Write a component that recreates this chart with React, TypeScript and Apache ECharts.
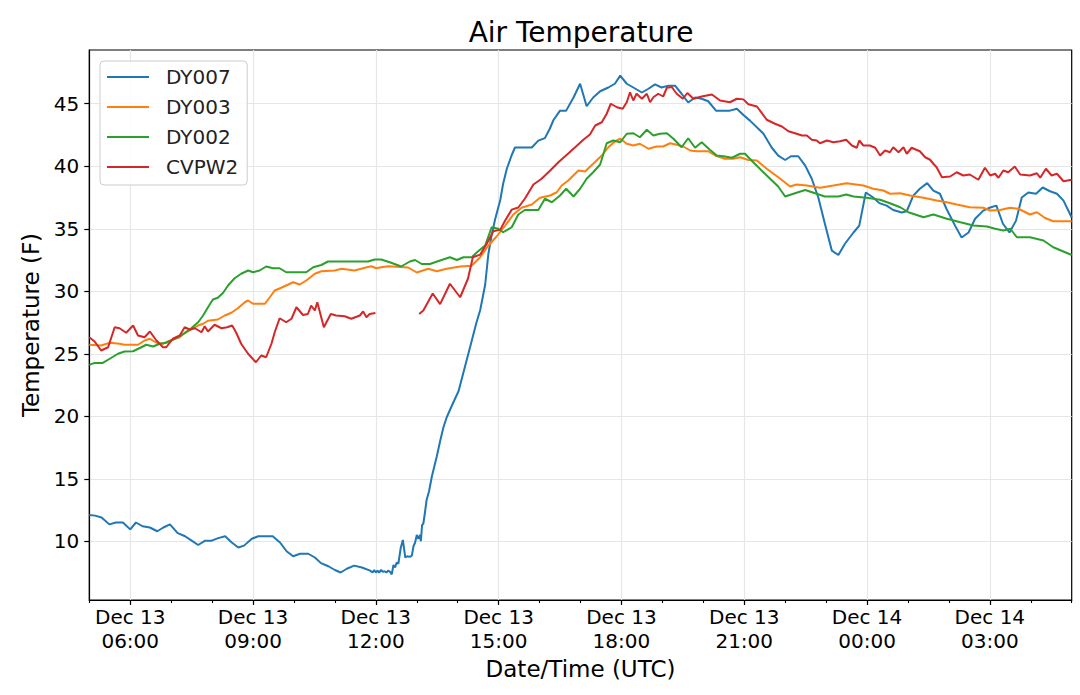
import React, { useEffect, useRef } from "react";
import * as echarts from "echarts";

// Time values: hours after Dec 13 00:00 UTC. Temperatures in °F.
const seriesNames = ["DY007", "DY003", "DY002", "CVPW2"];
const seriesColors = ["#1f77b4", "#ff7f0e", "#2ca02c", "#d62728"];

const dy007: [number, number][] = [
  [5.0, 12.1], [5.14, 12.05], [5.3, 11.9], [5.49, 11.35], [5.65, 11.5], [5.82, 11.5], [6.0, 10.95],
  [6.14, 11.5], [6.3, 11.2], [6.48, 11.1], [6.66, 10.8], [6.81, 11.1], [6.97, 11.35], [7.16, 10.65],
  [7.34, 10.4], [7.5, 10.05], [7.66, 9.7], [7.83, 10.05], [7.99, 10.05], [8.15, 10.25], [8.32, 10.4],
  [8.48, 9.9], [8.64, 9.5], [8.78, 9.65], [8.97, 10.2], [9.13, 10.4], [9.48, 10.4], [9.66, 9.9],
  [9.82, 9.2], [9.98, 8.8], [10.15, 9.0], [10.35, 9.0], [10.51, 8.7], [10.66, 8.25], [10.84, 8.0],
  [11.0, 7.7], [11.14, 7.5], [11.29, 7.8], [11.47, 8.05], [11.66, 7.9], [11.86, 7.65], [11.92, 7.5],
  [11.96, 7.7], [12.0, 7.5], [12.04, 7.65], [12.08, 7.5], [12.13, 7.7], [12.17, 7.55], [12.21, 7.6],
  [12.26, 7.5], [12.3, 7.65], [12.35, 7.55], [12.39, 7.35], [12.43, 8.1], [12.47, 7.9], [12.51, 8.3],
  [12.55, 8.2], [12.61, 9.5], [12.66, 10.1], [12.72, 8.7], [12.77, 8.8], [12.83, 8.75], [12.88, 8.85],
  [12.92, 9.6], [12.96, 9.9], [13.0, 10.5], [13.04, 10.2], [13.08, 10.5], [13.1, 10.0], [13.13, 11.3],
  [13.16, 11.4], [13.2, 12.3], [13.24, 13.3], [13.3, 14.0], [13.37, 15.2], [13.43, 16.0], [13.49, 16.8],
  [13.57, 18.0], [13.65, 19.1], [13.73, 19.9], [13.81, 20.5], [13.92, 21.3], [14.02, 22.0], [14.1, 23.0],
  [14.18, 24.0], [14.26, 25.0], [14.34, 26.0], [14.45, 27.4], [14.55, 28.5], [14.67, 30.5], [14.75, 33.0],
  [14.83, 34.5], [14.91, 35.7], [15.04, 37.3], [15.11, 38.6], [15.2, 39.8], [15.32, 40.9], [15.4, 41.5],
  [15.48, 41.5], [15.81, 41.5], [15.97, 42.05], [16.13, 42.25], [16.25, 43.0], [16.34, 43.7], [16.5, 44.45],
  [16.65, 44.45], [16.83, 45.5], [16.99, 46.6], [17.15, 44.8], [17.31, 45.5], [17.48, 46.0], [17.68, 46.3],
  [17.84, 46.6], [17.97, 47.25], [18.13, 46.6], [18.29, 46.3], [18.5, 45.9], [18.66, 46.2], [18.82, 46.55],
  [18.98, 46.3], [19.15, 46.45], [19.31, 46.45], [19.47, 45.8], [19.63, 45.1], [19.8, 45.5], [19.96, 45.4],
  [20.12, 45.2], [20.31, 44.45], [20.65, 44.45], [20.82, 44.6], [20.98, 44.1], [21.14, 43.65], [21.47, 42.6],
  [21.67, 41.5], [21.83, 40.85], [22.0, 40.5], [22.14, 40.8], [22.32, 40.8], [22.49, 40.05], [22.65, 39.0],
  [22.81, 37.5], [22.97, 35.4], [23.14, 33.25], [23.3, 32.9], [23.46, 33.8], [23.67, 34.7], [23.81, 35.25],
  [23.97, 37.9], [24.15, 37.5], [24.3, 37.05], [24.48, 36.85], [24.64, 36.5], [24.85, 36.3], [24.97, 36.4],
  [25.13, 37.65], [25.29, 38.2], [25.47, 38.65], [25.62, 38.05], [25.78, 37.8], [25.94, 36.6], [26.15, 35.25],
  [26.31, 34.3], [26.48, 34.7], [26.64, 35.8], [26.84, 36.45], [27.01, 36.7], [27.16, 36.85], [27.32, 35.4],
  [27.48, 34.7], [27.64, 35.65], [27.78, 37.5], [27.94, 37.9], [28.13, 37.8], [28.29, 38.3], [28.47, 38.0],
  [28.64, 37.8], [28.8, 37.25], [29.0, 35.9],
];

const dy003: [number, number][] = [
  [5.0, 25.72], [5.29, 25.66], [5.5, 25.88], [5.74, 25.8], [5.86, 25.72], [6.19, 25.72], [6.35, 26.06],
  [6.48, 26.2], [6.64, 25.88], [6.8, 25.8], [6.92, 25.98], [7.09, 26.2], [7.21, 26.32], [7.33, 26.68],
  [7.49, 26.94], [7.66, 27.26], [7.78, 27.4], [7.9, 27.64], [8.14, 27.74], [8.31, 28.06], [8.47, 28.28],
  [8.63, 28.64], [8.8, 29.12], [8.88, 29.26], [9.0, 29.0], [9.29, 29.0], [9.41, 29.52], [9.53, 30.06],
  [9.69, 30.28], [9.85, 30.52], [9.98, 30.72], [10.14, 30.54], [10.3, 30.86], [10.51, 31.4], [10.67, 31.6],
  [11.0, 31.66], [11.16, 31.8], [11.48, 31.66], [11.73, 31.88], [11.89, 32.0], [12.01, 31.84], [12.13, 31.92],
  [12.3, 32.0], [12.79, 31.9], [13.0, 31.5], [13.28, 31.8], [13.49, 31.6], [13.73, 31.8], [14.06, 31.98],
  [14.34, 32.04], [14.55, 32.72], [14.75, 33.66], [14.95, 34.38], [15.16, 35.26], [15.36, 36.14],
  [15.56, 36.68], [15.81, 36.94], [16.01, 37.48], [16.26, 37.66], [16.42, 37.92], [16.54, 38.46],
  [16.7, 38.86], [16.95, 39.66], [17.11, 39.58], [17.31, 40.2], [17.52, 40.86], [17.68, 41.52],
  [17.84, 41.98], [17.97, 42.2], [18.13, 41.8], [18.29, 41.66], [18.45, 41.8], [18.66, 41.4], [18.86, 41.58],
  [19.02, 41.58], [19.19, 41.84], [19.35, 41.72], [19.51, 41.58], [19.68, 41.26], [19.84, 41.2], [20.12, 41.2],
  [20.29, 40.86], [20.53, 40.6], [20.73, 40.6], [20.9, 40.72], [21.1, 40.5], [21.31, 40.46], [21.55, 39.8],
  [21.88, 39.0], [22.12, 38.38], [22.28, 38.54], [22.53, 38.46], [22.85, 38.28], [23.18, 38.46],
  [23.5, 38.64], [23.91, 38.46], [24.15, 38.2], [24.4, 38.06], [24.56, 37.8], [24.81, 37.84], [25.05, 37.66],
  [25.38, 37.48], [25.7, 37.26], [25.95, 37.12], [26.19, 36.94], [26.51, 36.72], [26.84, 36.68],
  [27.01, 36.46], [27.25, 36.5], [27.49, 36.68], [27.7, 36.6], [27.98, 36.14], [28.15, 36.32], [28.35, 35.86],
  [28.55, 35.6], [29.0, 35.6],
];

const dy002: [number, number][] = [
  [5.0, 24.11], [5.13, 24.27], [5.33, 24.27], [5.5, 24.6], [5.7, 25.0], [5.86, 25.18], [6.07, 25.2],
  [6.27, 25.52], [6.39, 25.72], [6.56, 25.58], [6.72, 25.8], [6.88, 25.88], [7.0, 26.06], [7.17, 26.32],
  [7.33, 26.64], [7.49, 27.04], [7.66, 27.52], [7.78, 28.06], [7.9, 28.72], [8.02, 29.34], [8.14, 29.48],
  [8.27, 29.88], [8.39, 30.46], [8.55, 31.04], [8.71, 31.4], [8.88, 31.66], [9.0, 31.52], [9.16, 31.66],
  [9.32, 31.98], [9.49, 31.84], [9.65, 31.84], [9.81, 31.52], [10.3, 31.52], [10.47, 31.92], [10.67, 32.1],
  [10.83, 32.38], [11.81, 32.38], [11.97, 32.54], [12.13, 32.54], [12.34, 32.32], [12.62, 31.98],
  [12.83, 32.38], [12.96, 32.5], [13.12, 32.18], [13.32, 32.18], [13.57, 32.46], [13.81, 32.72],
  [13.98, 32.5], [14.14, 32.72], [14.34, 32.72], [14.5, 33.2], [14.67, 33.66], [14.83, 35.12], [14.99, 35.0],
  [15.11, 34.72], [15.32, 35.12], [15.48, 36.14], [15.64, 36.5], [15.97, 36.5], [16.13, 37.4], [16.3, 37.12],
  [16.5, 37.66], [16.65, 38.2], [16.83, 37.58], [16.99, 38.2], [17.15, 39.0], [17.31, 39.52], [17.48, 40.14],
  [17.64, 41.84], [17.8, 42.06], [17.97, 41.92], [18.13, 42.6], [18.29, 42.64], [18.45, 42.32], [18.62, 42.92],
  [18.78, 42.46], [18.94, 42.6], [19.11, 42.64], [19.27, 42.2], [19.47, 41.52], [19.63, 42.24], [19.8, 41.48],
  [19.96, 41.92], [20.16, 41.32], [20.33, 40.86], [20.53, 40.78], [20.7, 40.68], [20.9, 41.0], [21.02, 41.0],
  [21.22, 40.32], [21.55, 39.26], [21.83, 38.38], [22.0, 37.58], [22.24, 37.84], [22.49, 38.1], [22.73, 37.84],
  [22.97, 37.58], [23.3, 37.58], [23.49, 37.74], [23.67, 37.58], [23.99, 37.48], [24.32, 37.32], [24.56, 37.04],
  [24.81, 36.72], [25.01, 36.32], [25.38, 35.92], [25.62, 36.14], [25.95, 35.8], [26.28, 35.52], [26.6, 35.26],
  [26.93, 35.18], [27.13, 35.0], [27.33, 34.86], [27.5, 35.0], [27.66, 34.32], [27.98, 34.32], [28.31, 34.06],
  [28.55, 33.52], [29.0, 32.9],
];

// null marks the data gap around 12:00-13:00
const cvpw2: [number, number | null][] = [
  [5.0, 26.32], [5.13, 25.98], [5.29, 25.26], [5.46, 25.52], [5.62, 27.12], [5.74, 27.04], [5.9, 26.68],
  [6.07, 27.26], [6.19, 26.46], [6.35, 26.32], [6.48, 26.78], [6.64, 26.06], [6.8, 25.52], [6.88, 25.52],
  [7.04, 26.2], [7.21, 26.46], [7.33, 27.12], [7.45, 26.94], [7.58, 27.04], [7.74, 26.72], [7.82, 27.2],
  [7.9, 26.78], [8.06, 27.32], [8.23, 27.04], [8.37, 27.12], [8.49, 27.26], [8.59, 26.68], [8.71, 25.8],
  [8.88, 25.0], [9.07, 24.32], [9.2, 24.86], [9.32, 24.72], [9.45, 25.8], [9.53, 26.72], [9.65, 27.84],
  [9.81, 27.52], [9.94, 27.8], [10.06, 28.72], [10.22, 28.1], [10.34, 28.18], [10.42, 28.86], [10.51, 28.46],
  [10.57, 29.12], [10.73, 27.12], [10.9, 28.18], [11.03, 28.06], [11.24, 28.0], [11.4, 27.8], [11.61, 28.06],
  [11.69, 28.38], [11.77, 27.92], [11.85, 28.18], [11.99, 28.26], [12.5, null], [13.06, 28.18],
  [13.16, 28.46], [13.39, 29.82], [13.57, 28.97], [13.81, 30.6], [14.06, 29.52], [14.25, 31.0], [14.37, 32.72],
  [14.55, 32.93], [14.71, 33.8], [14.87, 34.8], [15.04, 34.93], [15.16, 35.66], [15.32, 36.53], [15.48, 36.7],
  [15.64, 37.4], [15.85, 38.54], [16.05, 39.0], [16.26, 39.66], [16.46, 40.32], [16.66, 40.9], [16.87, 41.52],
  [17.07, 42.12], [17.23, 42.54], [17.36, 43.26], [17.52, 43.52], [17.64, 44.2], [17.74, 45.0], [17.89, 44.72],
  [18.03, 44.6], [18.13, 45.12], [18.21, 45.92], [18.29, 45.26], [18.37, 45.8], [18.5, 45.4], [18.62, 45.8],
  [18.7, 45.12], [18.78, 45.52], [18.9, 45.8], [19.02, 45.58], [19.11, 46.28], [19.23, 46.34], [19.35, 45.8],
  [19.5, 45.4], [19.61, 45.86], [19.76, 45.4], [19.96, 45.58], [20.21, 45.74], [20.41, 45.26], [20.65, 45.12],
  [20.82, 45.4], [20.98, 45.35], [21.1, 44.96], [21.31, 44.78], [21.55, 43.72], [21.75, 43.4], [21.92, 43.18],
  [22.08, 42.8], [22.24, 42.64], [22.41, 42.46], [22.53, 42.46], [22.65, 42.12], [22.77, 42.06], [22.85, 41.84],
  [23.02, 42.06], [23.18, 41.92], [23.34, 42.0], [23.49, 42.12], [23.63, 41.66], [23.75, 41.48], [23.81, 42.06],
  [23.91, 41.66], [24.07, 41.66], [24.2, 41.48], [24.32, 40.86], [24.44, 41.26], [24.56, 41.12], [24.64, 41.52],
  [24.77, 41.12], [24.89, 41.52], [24.97, 41.0], [25.09, 41.48], [25.29, 41.2], [25.42, 40.72], [25.54, 40.52],
  [25.62, 40.2], [25.7, 39.92], [25.83, 39.12], [26.03, 39.18], [26.19, 39.52], [26.35, 39.26], [26.51, 39.34],
  [26.72, 38.92], [26.88, 39.88], [27.01, 39.26], [27.13, 39.4], [27.21, 39.08], [27.33, 39.66], [27.45, 39.52],
  [27.61, 39.98], [27.74, 39.34], [27.98, 39.26], [28.15, 39.44], [28.23, 39.08], [28.37, 39.8], [28.51, 39.26],
  [28.64, 39.4], [28.8, 38.8], [29.0, 38.92],
];

const seriesData = [dy007, dy003, dy002, cvpw2];

const xRange = [5, 29]; // Dec 13 05:00 to Dec 14 05:00 UTC
const xMajorTicks = [6, 9, 12, 15, 18, 21, 24, 27];
const yRange = [5.3, 49.3];
const yTicks = [10, 15, 20, 25, 30, 35, 40, 45];

function tickLabel(h: number): string {
  const day = h >= 24 ? 14 : 13;
  const hh = Math.round(h) % 24;
  return `Dec ${day}\n${String(hh).padStart(2, "0")}:00`;
}

const FONT = "DejaVu Sans";
const BLACK = "#000000";
const GRID = "#e6e6e6";

export default function App() {
  const ref = useRef<HTMLDivElement>(null);

  useEffect(() => {
    if (!ref.current) return;
    const chart = echarts.init(ref.current, undefined, { renderer: "svg" });
    const axisLine = { show: true, lineStyle: { color: BLACK, width: 1.2 } };
    chart.setOption({
      animation: false,
      backgroundColor: "#ffffff",
      textStyle: { fontFamily: FONT },
      title: {
        text: "Air Temperature",
        left: 576,
        top: 13,
        textAlign: "center",
        textStyle: { fontSize: 28, fontWeight: "normal", color: BLACK, fontFamily: FONT },
      },
      grid: {
        left: 89.3,
        right: 8.3,
        top: 50,
        bottom: 95,
        show: true,
        borderColor: BLACK,
        borderWidth: 1.2,
        backgroundColor: "transparent",
      },
      legend: {
        data: seriesNames,
        orient: "vertical",
        left: 100,
        top: 61,
        icon: "rect",
        itemWidth: 42,
        itemHeight: 2,
        itemGap: 10,
        padding: [6, 9, 8, 7],
        backgroundColor: "rgba(255,255,255,0.85)",
        borderColor: "#cccccc",
        borderWidth: 1,
        borderRadius: 4,
        textStyle: { fontSize: 20, lineHeight: 20, color: "#222222", fontFamily: FONT, padding: [0, 0, 0, 12] },
      },
      xAxis: [
        {
          type: "value",
          min: xRange[0],
          max: xRange[1],
          interval: 1,
          position: "bottom",
          axisLine,
          axisTick: { show: true, length: 3, lineStyle: { color: BLACK, width: 1.1 } },
          axisLabel: { show: false },
          splitLine: { show: false },
        },
        {
          type: "value",
          min: xRange[0],
          max: xRange[1],
          position: "bottom",
          axisLine: { show: false },
          axisTick: { show: true, customValues: xMajorTicks, length: 5, lineStyle: { color: BLACK, width: 1.2 } },
          axisLabel: {
            customValues: xMajorTicks,
            formatter: tickLabel,
            fontSize: 20,
            lineHeight: 24,
            color: BLACK,
            margin: 5,
            fontFamily: FONT,
          },
          splitLine: { show: true, lineStyle: { color: GRID, width: 1.2 } },
          name: "Date/Time (UTC)",
          nameLocation: "middle",
          nameGap: 54,
          nameTextStyle: { fontSize: 23, color: BLACK, fontFamily: FONT },
        },
      ],
      yAxis: {
        type: "value",
        min: yRange[0],
        max: yRange[1],
        axisLine,
        axisTick: { show: true, customValues: yTicks, length: 5, lineStyle: { color: BLACK, width: 1.2 } },
        axisLabel: { customValues: yTicks, fontSize: 20, color: BLACK, margin: 10, fontFamily: FONT },
        splitLine: { show: true, lineStyle: { color: GRID, width: 1.2 } },
        name: "Temperature (F)",
        nameLocation: "middle",
        nameGap: 40,
        nameRotate: 90,
        nameTextStyle: { fontSize: 23, color: BLACK, fontFamily: FONT },
      },
      series: seriesNames.map((name, i) => ({
        name,
        type: "line",
        xAxisIndex: 0,
        yAxisIndex: 0,
        data: seriesData[i],
        symbol: "none",
        showSymbol: false,
        connectNulls: false,
        color: seriesColors[i],
        itemStyle: { color: seriesColors[i] },
        lineStyle: { color: seriesColors[i], width: 2 },
        emphasis: { disabled: true },
      })),
    });
    return () => chart.dispose();
  }, []);

  return (
    <div
      ref={ref}
      style={{ position: "fixed", left: 0, top: 0, width: 1080, height: 695, background: "#fff" }}
    />
  );
}
